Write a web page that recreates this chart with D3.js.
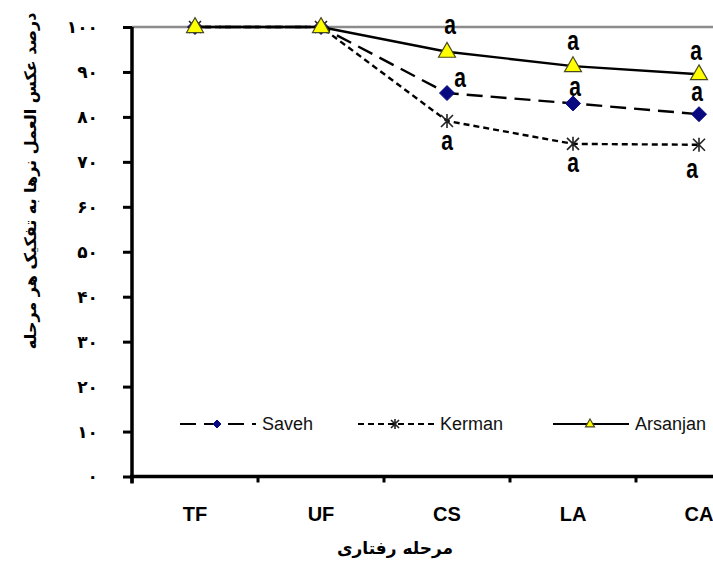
<!DOCTYPE html>
<html>
<head>
<meta charset="utf-8">
<script src="https://cdn.jsdelivr.net/npm/d3@7"></script>
<style>
  body { margin: 0; background: #fff; }
  svg { display: block; }
</style>
</head>
<body>
<script>
// data
const stages = ['TF', 'UF', 'CS', 'LA', 'CA'];
const saveh = [100, 100, 85.3, 83.0, 80.6];
const kerman = [100, 100, 79.1, 74.0, 73.8];
const arsanjan = [100, 100, 94.5, 91.3, 89.5];
const yTicks = [0, 10, 20, 30, 40, 50, 60, 70, 80, 90, 100];
const letters = { saveh: ['', '', 'a', 'a', 'a'], kerman: ['', '', 'a', 'a', 'a'], arsanjan: ['', '', 'a', 'a', 'a'] };

const width = 713, height = 561;
const svg = d3.select('body').append('svg').attr('width', width).attr('height', height);

const x = d3.scaleBand().domain(stages).range([132, 762]);
const y = d3.scaleLinear().domain([0, 100]).range([476.5, 27]);
const cx = d => x(d) + x.bandwidth() / 2;

const persian = v => String(v).replace(/\d/g, c => '۰۱۲۳۴۵۶۷۸۹'[c]);

// top grey border of the plot area
svg.append('line').attr('x1', 132).attr('x2', width).attr('y1', y(100)).attr('y2', y(100))
  .attr('stroke', '#8c8c8c').attr('stroke-width', 2.5);

// y axis
const yAxis = svg.append('g').attr('transform', 'translate(132,0)')
  .call(d3.axisLeft(y).tickValues(yTicks).tickSize(9).tickPadding(25).tickFormat(persian));
yAxis.select('.domain').attr('stroke-width', 3.5).attr('d', 'M0,' + y(100) + 'V' + (y(0) + 7));
yAxis.selectAll('.tick line').attr('stroke-width', 3);
yAxis.selectAll('.tick text').attr('font-family', 'DejaVu Sans').attr('font-weight', 'bold').attr('font-size', 17);

// x axis
const xAxis = svg.append('g').attr('transform', `translate(0,${y(0)})`)
  .call(d3.axisBottom(x).tickSize(0).tickPadding(30));
xAxis.select('.domain').attr('stroke-width', 3.5).attr('d', 'M130,0H' + width);
xAxis.selectAll('.tick text').attr('font-family', 'Liberation Sans').attr('font-weight', 'bold').attr('font-size', 20);
xAxis.selectAll('.bound').data(stages).enter().append('line').attr('class', 'bound')
  .attr('x1', d => x(d)).attr('x2', d => x(d)).attr('y1', 0).attr('y2', 6)
  .attr('stroke', '#000').attr('stroke-width', 3);

// markers
function diamond(g, r) {
  return g.append('path').attr('d', `M0,${-r}L${r},0L0,${r}L${-r},0Z`).attr('fill', '#0a0a80').attr('stroke', '#0a0a80').attr('stroke-width', 1);
}
function star(g, r) {
  return g.append('path').attr('d', `M${-r},${-r}L${r},${r}M${-r},${r}L${r},${-r}M0,${-r - 1}V${r + 1}`)
    .attr('fill', 'none').attr('stroke', '#222').attr('stroke-width', 1.6);
}
function triangle(g, r) {
  return g.append('path').attr('d', `M0,${-r * 1.1}L${r},${r * 0.65}L${-r},${r * 0.65}Z`)
    .attr('fill', '#ffff00').attr('stroke', '#4a4a20').attr('stroke-width', 1.2);
}

const series = [
  { name: 'Saveh', values: saveh, dash: '16,8', marker: diamond, size: 7.5, legendSize: 4, letters: letters.saveh },
  { name: 'Kerman', values: kerman, dash: '6,4', marker: star, size: 6, legendSize: 4, letters: letters.kerman },
  { name: 'Arsanjan', values: arsanjan, dash: null, marker: triangle, size: 8.5, legendSize: 4.5, letters: letters.arsanjan }
];

// label offsets (pixels from the point)
const letterOffsets = {
  Saveh: [[0, 0], [0, 0], [13, -14], [2, -15], [-2, -21]],
  Kerman: [[0, 0], [0, 0], [0, 22], [0, 21], [-7, 26]],
  Arsanjan: [[0, 0], [0, 0], [3, -25], [0, -24], [-3, -22]]
};

const line = d3.line().x((d, i) => cx(stages[i])).y(d => y(d));

series.forEach(s => {
  svg.append('path').datum(s.values).attr('d', line)
    .attr('fill', 'none').attr('stroke', '#000').attr('stroke-width', 2.4)
    .attr('stroke-dasharray', s.dash);
  s.values.forEach((v, i) => {
    const g = svg.append('g').attr('transform', `translate(${cx(stages[i])},${y(v)})`);
    s.marker(g, s.size);
  });
});

// significance letters
series.forEach(s => {
  s.letters.forEach((t, i) => {
    if (!t) return;
    const o = letterOffsets[s.name][i];
    svg.append('text')
      .attr('transform', `translate(${cx(stages[i]) + o[0]},${y(s.values[i]) + o[1] + 7.5}) scale(1,1.3)`)
      .attr('text-anchor', 'middle').attr('font-family', 'Liberation Sans').attr('font-weight', 'bold')
      .attr('font-size', 21).text(t);
  });
});

// legend
const legendX = [180, 358, 553];
series.forEach((s, k) => {
  const g = svg.append('g').attr('transform', `translate(${legendX[k]},424)`);
  g.append('line').attr('x1', 0).attr('x2', 76).attr('stroke', '#000').attr('stroke-width', 2)
    .attr('stroke-dasharray', s.dash);
  s.marker(g.append('g').attr('transform', 'translate(37,0)'), s.legendSize);
  g.append('text').attr('x', 82).attr('y', 0).attr('dy', '0.35em')
    .attr('font-family', 'Liberation Sans').attr('font-size', 18).attr('fill', '#111').text(s.name);
});

// titles
svg.append('text').attr('transform', 'translate(30,181) rotate(-90)').attr('text-anchor', 'middle')
  .attr('dy', '0.35em').attr('font-family', 'DejaVu Sans').attr('font-weight', 'bold').attr('font-size', 16)
  .attr('direction', 'rtl').text('درصد عکس العمل نرها به تفکیک هر مرحله');
svg.append('text').attr('x', 395).attr('y', 548).attr('text-anchor', 'middle').attr('dy', '0.35em')
  .attr('font-family', 'DejaVu Sans').attr('font-weight', 'bold').attr('font-size', 17)
  .attr('direction', 'rtl').text('مرحله رفتاری');
</script>
</body>
</html>
